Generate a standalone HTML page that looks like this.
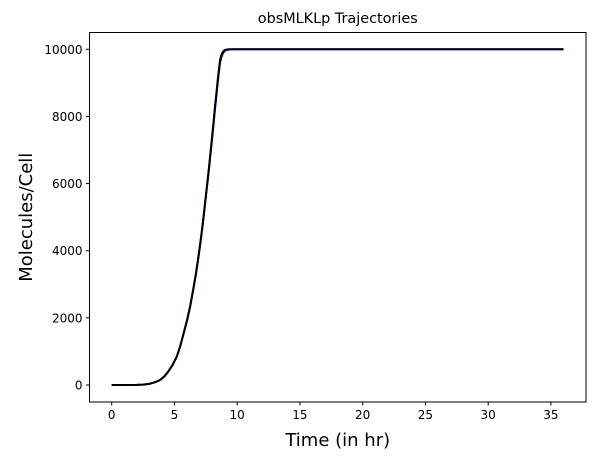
<!DOCTYPE html>
<html><head><meta charset="utf-8"><style>
body{margin:0;background:#fff;}
svg{display:block;font-family:"DejaVu Sans","Liberation Sans",sans-serif;}
</style></head><body>
<svg id="chart" width="598" height="461"></svg>
<script>
const times = [0, 1, 2, 2.5, 3, 3.5, 3.85, 4.2, 4.5, 4.85, 5.18, 5.45, 5.7, 6.0, 6.24, 6.5, 6.7, 6.9, 7.09, 7.25, 7.4, 7.55, 7.7, 7.85, 8.0, 8.12, 8.23, 8.35, 8.45, 8.55, 8.63, 8.75, 8.85, 8.95, 9.03, 9.15, 9.3, 9.45, 9.6, 10, 15, 20, 25, 30, 36];
const seriesBlack = [0, 0, 3, 10, 35, 90, 150, 260, 400, 600, 843, 1150, 1500, 1930, 2330, 2860, 3300, 3800, 4320, 4800, 5300, 5800, 6300, 6850, 7400, 7850, 8290, 8720, 9100, 9420, 9680, 9840, 9920, 9960, 9980, 9992, 10000, 10000, 10000, 10000, 10000, 10000, 10000, 10000, 10000];
const seriesBlue = [0, 0, 3, 10, 34, 88, 147, 255, 395, 592, 835, 1140, 1485, 1910, 2310, 2840, 3270, 3770, 4290, 4770, 5260, 5760, 6250, 6800, 7340, 7790, 8220, 8640, 9020, 9340, 9600, 9780, 9870, 9930, 9960, 9980, 9992, 9998, 10000, 10000, 10000, 10000, 10000, 10000, 10000];
const xTicks = [0, 5, 10, 15, 20, 25, 30, 35];
const yTicks = [0, 2000, 4000, 6000, 8000, 10000];

const NS = "http://www.w3.org/2000/svg";
const svg = document.getElementById("chart");
const L = 89.5, R = 586, T = 32.5, B = 402;
const xs = t => 111.7 + t * 12.55;
const ys = v => 385 - v * 0.033570;
function mk(tag, attrs, parent) {
  const e = document.createElementNS(NS, tag);
  for (const k in attrs) e.setAttribute(k, attrs[k]);
  (parent || svg).appendChild(e);
  return e;
}
function line(vals, color, name) {
  const p = mk("path", {d: vals.map((v, i) => (i ? "L" : "M") + xs(times[i]).toFixed(2) + "," + ys(v).toFixed(2)).join(""), fill: "none", stroke: color, "stroke-width": 2, "stroke-linejoin": "round"});
  
  
}
line(seriesBlue, "#0000ff", "series-blue");
line(seriesBlack, "#000000", "series-black");

const frame = mk("rect", {x: L, y: T, width: R - L, height: B - T, fill: "none", stroke: "#000", "stroke-width": 1});



xTicks.forEach(t => {
  const x = xs(t);
  mk("line", {x1: x, x2: x, y1: B, y2: B + 3.5, stroke: "#000"});
  const tx = mk("text", {x: x, y: B + 17, "text-anchor": "middle", "font-size": 12}); tx.textContent = t;
  
  
});
yTicks.forEach(v => {
  const y = ys(v);
  mk("line", {x1: L - 3.5, x2: L, y1: y, y2: y, stroke: "#000"});
  const tx = mk("text", {x: L - 7, y: y + 4.5, "text-anchor": "end", "font-size": 12}); tx.textContent = v;
  
  
});
const title = mk("text", {x: (L + R) / 2, y: 23, "text-anchor": "middle", "font-size": 14.4}); title.textContent = "obsMLKLp Trajectories";


const xt = mk("text", {x: (L + R) / 2, y: 446, "text-anchor": "middle", "font-size": 18}); xt.textContent = "Time (in hr)";


const yt = mk("text", {x: 0, y: 0, "text-anchor": "middle", "font-size": 18, transform: "translate(32," + ((T + B) / 2) + ") rotate(-90)"}); yt.textContent = "Molecules/Cell";


</script>
</body></html>
